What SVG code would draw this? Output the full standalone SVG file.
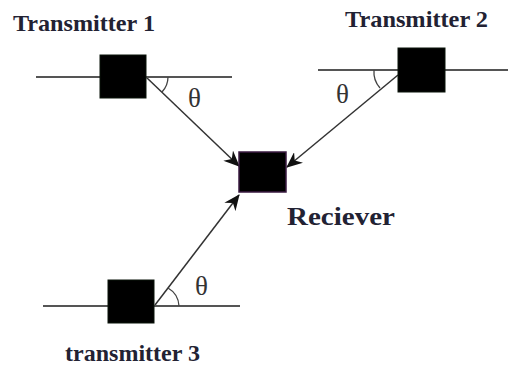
<svg xmlns="http://www.w3.org/2000/svg" width="508" height="366" viewBox="0 0 508 366">
<defs>
<style>
.lbl{font-family:"Liberation Serif","Times New Roman",serif;font-weight:bold;fill:#222233}
.th{font-family:"Liberation Serif","Times New Roman",serif;font-size:27px;fill:#333}
.base{stroke:#555;stroke-width:2;fill:none}
.conn{stroke:#333;stroke-width:1.5;fill:none;marker-end:url(#ah)}
.arc{stroke:#444;stroke-width:1.3;fill:none}
.box{fill:#000;stroke:#0a140a;stroke-width:1}
</style>
<marker id="ah" viewBox="0 0 16 14" refX="15" refY="7" markerWidth="16" markerHeight="14" markerUnits="userSpaceOnUse" orient="auto">
<path d="M0,0 L16,7 L0,14 L5,7 z" fill="#111"/>
</marker>
</defs>
<g id="connectors">
<line class="conn" x1="146" y1="77" x2="239" y2="166"/>
<line class="conn" x1="398" y1="75" x2="287" y2="167"/>
<line class="conn" x1="155" y1="305" x2="239" y2="195"/>
</g>
<g id="transmitter1">
<line class="base" x1="36" y1="77" x2="232" y2="77"/>
<rect class="box" x="100" y="55" width="46" height="43"/>
<path class="arc" d="M168,77 A22,22 0 0 1 162,92"/>
<text class="th" x="188" y="107">θ</text>
<text class="lbl" x="13" y="31" font-size="24" textLength="142" lengthAdjust="spacingAndGlyphs">Transmitter 1</text>
</g>
<g id="transmitter2">
<line class="base" x1="318" y1="70" x2="508" y2="70"/>
<rect class="box" x="398" y="48" width="47" height="44"/>
<path class="arc" d="M374,70 A24,24 0 0 0 380,88"/>
<text class="th" x="336" y="103">θ</text>
<text class="lbl" x="345" y="27" font-size="24" textLength="143" lengthAdjust="spacingAndGlyphs">Transmitter 2</text>
</g>
<g id="transmitter3">
<line class="base" x1="43" y1="306" x2="240" y2="306"/>
<rect class="box" x="108" y="280" width="46" height="43"/>
<path class="arc" d="M168,288 A22,22 0 0 1 179,306"/>
<text class="th" x="195" y="295">θ</text>
<text class="lbl" x="65" y="361" font-size="24" textLength="135" lengthAdjust="spacingAndGlyphs">transmitter 3</text>
</g>
<g id="receiver">
<rect x="239" y="152" width="47" height="40" fill="#000" stroke="#3a1a40" stroke-width="1.5"/>
<text class="lbl" x="287" y="225" font-size="25" textLength="108" lengthAdjust="spacingAndGlyphs">Reciever</text>
</g>
</svg>
